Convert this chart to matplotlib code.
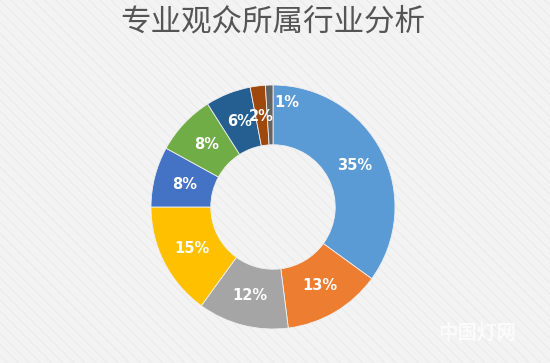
import matplotlib
matplotlib.use("Agg")
import matplotlib.pyplot as plt
from matplotlib.patches import Rectangle
import numpy as np

plt.rcParams['font.family'] = ['Noto Sans CJK SC', 'DejaVu Sans']
plt.rcParams['hatch.linewidth'] = 0.6

title = "专业观众所属行业分析"
shares = [35, 13, 12, 15, 8, 8, 6, 2, 1]
labels = ["35%", "13%", "12%", "15%", "8%", "8%", "6%", "2%", "1%"]
colors = ["#5B9BD5", "#ED7D31", "#A5A5A5", "#FFC000", "#4472C4",
          "#70AD47", "#255E91", "#9E480E", "#636363"]

W, H = 550, 363
fig = plt.figure(figsize=(W / 100, H / 100), dpi=100)
fig.patch.set_facecolor("#f3f3f3")
# faint diagonal stripe texture
fig.patches.append(Rectangle((0, 0), 1, 1, transform=fig.transFigure,
                             facecolor="none", edgecolor="#e9e9e9",
                             hatch="\\\\\\", linewidth=0, zorder=-10))

cx, cy, r = 273, 207, 122
ax = fig.add_axes([(cx - r) / W, (H - cy - r) / H, 2 * r / W, 2 * r / H])
ax.set_facecolor("none")
wedges, _ = ax.pie(shares, colors=colors, startangle=90, counterclock=False,
                   radius=1.0, wedgeprops=dict(width=0.49, edgecolor="#f0f0f0",
                                               linewidth=0.6))
ax.set_xlim(-1, 1)
ax.set_ylim(-1, 1)
ax.set_aspect("equal")
ax.axis("off")

cum = np.cumsum([0] + shares)
total = float(sum(shares))
for i, lab in enumerate(labels):
    mid = (cum[i] + cum[i + 1]) / 2 / total
    ang = np.deg2rad(90 - 360 * mid)
    x, y = 0.75 * np.cos(ang), 0.75 * np.sin(ang)
    if i == len(labels) - 1:
        # smallest slice: label nudged outside to the right
        x, y = x + 0.14, y + 0.11
    ax.text(x, y, lab, ha="center", va="center", color="white",
            fontsize=10.5, fontweight="bold", family=["DejaVu Sans"])

fig.text(273 / W, 1 - 22 / H, title, ha="center", va="center",
         fontsize=22, color="#555555", fontweight="medium")

fig.text(477 / W, 1 - 333 / H, "中国灯网", ha="center", va="center",
         fontsize=14, color="white", alpha=0.7, fontweight="bold")

fig.savefig("out.png", dpi=100, facecolor=fig.get_facecolor())
